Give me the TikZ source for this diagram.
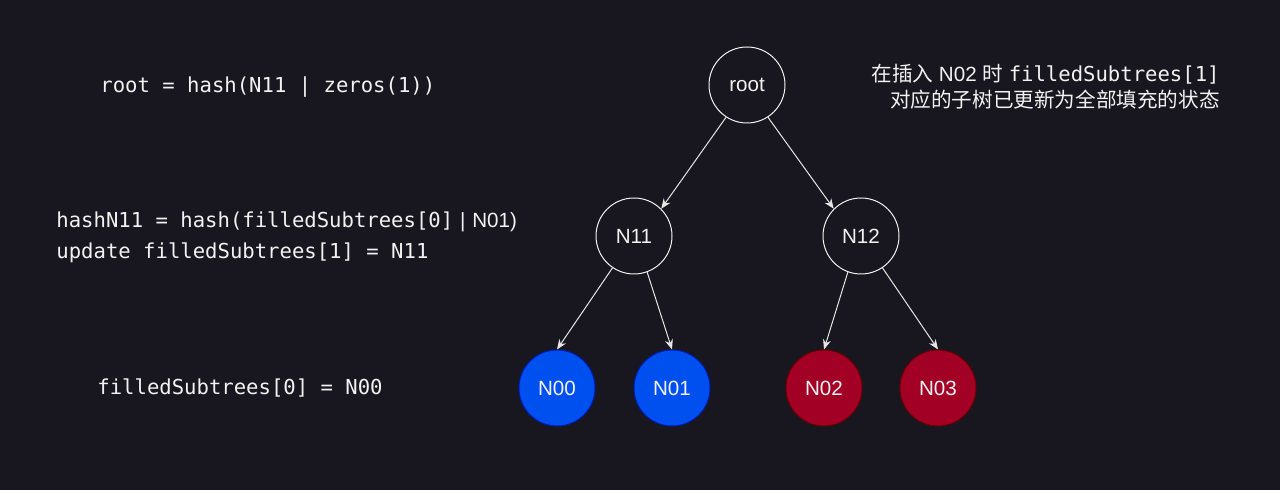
\documentclass[tikz,border=0pt]{standalone}
\usepackage{fontspec}
\setmainfont{Liberation Sans}
\setsansfont{Liberation Sans}
\setmonofont{DejaVu Sans Mono}
\newfontfamily\cjk{Noto Sans CJK SC}
\usetikzlibrary{arrows.meta,positioning}
\definecolor{BG}{HTML}{18161E}
\definecolor{INK}{HTML}{F2F2F2}
\definecolor{EDGE}{HTML}{E6E6E6}
\definecolor{FULL}{HTML}{0050EF}
\definecolor{FULLB}{HTML}{001DBC}
\definecolor{NEXT}{HTML}{A20025}
\definecolor{NEXTB}{HTML}{6F0000}

\begin{document}
\begin{tikzpicture}[
  x=0.5pt, y=-0.5pt,
  font=\sffamily\fontsize{10.3}{13}\selectfont,
  hnode/.style={circle, draw=INK, line width=0.5pt, minimum size=38pt, inner sep=0pt, text=INK},
  leafa/.style={hnode, draw=FULLB, fill=FULL},
  leafb/.style={hnode, draw=NEXTB, fill=NEXT},
  arr/.style={-{Stealth[length=5pt, width=4pt, inset=1.6pt]}, draw=EDGE, line width=0.5pt},
  code/.style={anchor=west, text=INK, font=\ttfamily\fontsize{10.3}{13}\selectfont, inner sep=0pt},
  note/.style={anchor=east, text=INK, align=right, inner sep=0pt},
]
\fill[BG] (0,0) rectangle (1280,490);

% tree
\node[hnode] (root) at (747,85) {root};
\node[hnode] (n11) at (634,236) {N11};
\node[hnode] (n12) at (861,236) {N12};
\node[leafa] (n00) at (557,388) {N00};
\node[leafa] (n01) at (672,388) {N01};
\node[leafb] (n02) at (824,388) {N02};
\node[leafb] (n03) at (938,388) {N03};

\draw[arr] (root.237) -- (n11.45);
\draw[arr] (root.303) -- (n12.135);
\draw[arr] (n11.236) -- (n00.north);
\draw[arr] (n11.290) -- (n01.north);
\draw[arr] (n12.250) -- (n02.north);
\draw[arr] (n12.304) -- (n03.north);

% left side
\node[code] (c1) at (100,87) {root = hash(N11 | zeros(1))};
\node[code] (c2) at (56,222) {hashN11 = hash(filledSubtrees[0]{\sffamily\,\,|\,\,N01)}};
\node[code] (c3) at (56,253) {update filledSubtrees[1] = N11};
\node[code] (c4) at (97,388) {filledSubtrees[0] = N00};

% note
\node[note] (msg) at (1220,87) {%
  {\cjk 在插入} N02 {\cjk 时} \texttt{filledSubtrees[1]}\\
  {\cjk 对应的子树已更新为全部填充的状态}};

\end{tikzpicture}
\end{document}
